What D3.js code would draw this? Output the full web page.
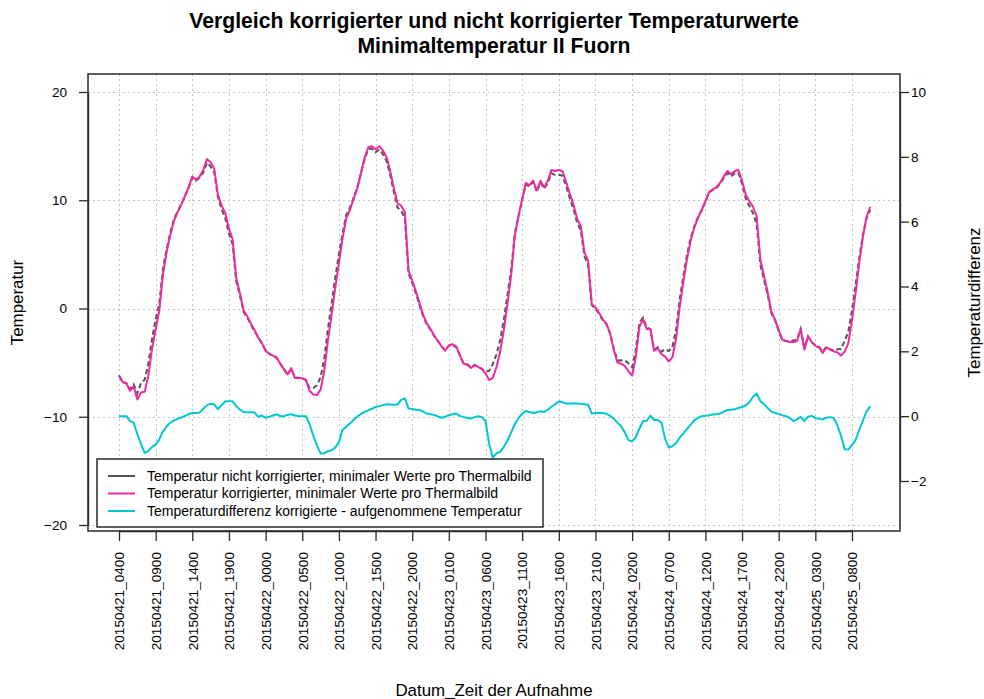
<!DOCTYPE html>
<html><head><meta charset="utf-8">
<script src="https://cdn.jsdelivr.net/npm/d3@7"></script>
<style>
body{margin:0;background:#fff}
svg{display:block}
text{font-family:"Liberation Sans",Arial,sans-serif;fill:#000}
</style>
</head><body>
<svg id="chart" width="984" height="699"></svg>
<script>
// ---------------- data ----------------
const titleLines = ["Vergleich korrigierter und nicht korrigierter Temperaturwerte", "Minimaltemperatur II Fuorn"];
const xTitle = "Datum_Zeit der Aufnahme";
const yLeftTitle = "Temperatur";
const yRightTitle = "Temperaturdifferenz";
const seriesNames = [
  "Temperatur nicht korrigierter, minimaler Werte pro Thermalbild",
  "Temperatur korrigierter, minimaler Werte pro Thermalbild",
  "Temperaturdifferenz korrigierte - aufgenommene Temperatur"
];
const startLabel = "20150421_0400";
const stepMinutes = 30;
const xTickLabels = ["20150421_0400","20150421_0900","20150421_1400","20150421_1900","20150422_0000",
  "20150422_0500","20150422_1000","20150422_1500","20150422_2000","20150423_0100","20150423_0600",
  "20150423_1100","20150423_1600","20150423_2100","20150424_0200","20150424_0700","20150424_1200",
  "20150424_1700","20150424_2200","20150425_0300","20150425_0800"];
const leftTicks = [-20, -10, 0, 10, 20];
const rightTicks = [-2, 0, 2, 4, 6, 8, 10];

const tempUncorrected = [
-6.2,-6.8,-6.9,-7.45,-7.0,-7.85,-6.9,-6.57,-5.12,-2.85,
-1.02,0.51,3.67,5.52,7.0,8.24,8.98,9.64,10.39,11.14,
12.1,11.8,12.09,12.57,13.46,13.12,12.54,10.28,9.16,8.34,
6.94,5.94,2.49,1.2,-0.33,-0.82,-1.52,-2.11,-2.68,-3.22,
-3.85,-4.18,-4.37,-4.56,-5.1,-5.6,-6.14,-5.56,-6.42,-6.4,
-6.45,-6.6,-7.35,-7.35,-7.1,-6.35,-4.65,-1.92,0.45,2.87,
5.0,6.91,8.63,9.33,10.22,11.11,12.44,13.77,14.72,14.77,
14.42,14.69,14.26,13.63,12.34,10.75,9.34,9.0,8.35,3.26,
2.38,1.4,0.31,-0.74,-1.48,-1.96,-2.54,-2.99,-3.45,-3.88,
-3.43,-3.36,-3.58,-4.31,-5.07,-5.15,-5.43,-5.22,-5.4,-5.57,
-5.85,-5.75,-5.12,-4.25,-2.9,-1.05,1.25,3.6,6.95,8.56,
10.02,11.44,11.27,11.7,10.78,11.65,11.07,11.6,12.51,12.33,
12.35,12.27,11.31,10.21,9.21,7.91,7.22,4.83,4.05,0.32,
0.0,-0.5,-1.1,-1.47,-2.31,-3.72,-4.8,-4.79,-4.8,-5.06,
-5.42,-3.85,-1.32,-0.85,-1.76,-1.92,-3.78,-3.58,-4.0,-3.76,
-3.93,-3.57,-1.97,0.86,3.03,4.99,6.56,7.62,8.45,9.1,
9.89,10.72,10.95,11.14,11.52,12.06,12.51,12.2,12.49,12.55,
11.52,10.17,9.47,8.8,7.8,4.04,2.63,1.25,-0.44,-1.1,
-2.07,-2.93,-3.0,-3.05,-2.95,-2.9,-1.88,-3.65,-2.58,-3.11,
-3.39,-3.52,-4.0,-3.55,-3.77,-3.89,-3.77,-3.75,-2.98,-2.17,
-0.21,2.23,4.72,6.83,8.35,9.09];

const tempCorrected = [
-6.2,-6.8,-6.9,-7.6,-7.2,-8.4,-7.75,-7.7,-6.2,-3.8,
-1.9,-0.2,3.2,5.2,6.8,8.1,8.9,9.6,10.4,11.2,
12.2,11.9,12.2,12.8,13.8,13.5,12.9,10.5,9.5,8.8,
7.4,6.4,2.8,1.4,-0.2,-0.7,-1.4,-2.0,-2.7,-3.2,
-3.9,-4.2,-4.35,-4.5,-5.1,-5.6,-6.1,-5.5,-6.4,-6.4,
-6.45,-6.6,-7.6,-7.95,-8.0,-7.5,-5.8,-3.0,-0.6,1.9,
4.2,6.5,8.3,9.1,10.1,11.1,12.5,13.9,14.9,15.0,
14.7,15.0,14.6,14.0,12.7,11.1,9.7,9.5,8.9,3.5,
2.6,1.6,0.5,-0.6,-1.4,-1.9,-2.5,-3.0,-3.5,-3.9,
-3.4,-3.3,-3.5,-4.3,-5.1,-5.2,-5.5,-5.25,-5.4,-5.6,
-6.0,-6.6,-6.4,-5.4,-4.0,-2.0,0.5,3.1,6.7,8.5,
10.1,11.6,11.4,11.8,10.9,11.8,11.2,11.8,12.8,12.7,
12.8,12.7,11.7,10.6,9.6,8.3,7.6,5.2,4.4,0.4,
0.1,-0.4,-1.0,-1.4,-2.3,-3.8,-5.0,-5.1,-5.3,-5.8,
-6.2,-4.5,-1.7,-1.0,-1.9,-1.9,-3.9,-3.7,-4.2,-4.45,
-4.9,-4.5,-2.8,0.2,2.5,4.6,6.3,7.5,8.4,9.1,
9.9,10.75,11.0,11.2,11.6,12.2,12.7,12.4,12.7,12.8,
11.8,10.5,9.9,9.4,8.5,4.5,3.0,1.5,-0.3,-1.0,
-2.0,-2.9,-3.0,-3.1,-3.1,-3.0,-1.9,-3.8,-2.6,-3.1,
-3.45,-3.6,-4.1,-3.6,-3.8,-3.95,-4.05,-4.35,-4.0,-3.2,
-1.1,1.5,4.3,6.7,8.5,9.4];

const tempDifference = [
0.0,0.0,0.0,-0.15,-0.2,-0.55,-0.85,-1.13,-1.08,-0.95,
-0.88,-0.71,-0.47,-0.32,-0.2,-0.14,-0.08,-0.04,0.01,0.06,
0.1,0.1,0.11,0.23,0.34,0.38,0.36,0.22,0.34,0.46,
0.46,0.46,0.31,0.2,0.13,0.12,0.12,0.11,-0.02,0.02,
-0.05,-0.02,0.02,0.06,0.0,0.0,0.04,0.06,0.02,0.0,
0.0,0.0,-0.25,-0.6,-0.9,-1.15,-1.15,-1.08,-1.05,-0.97,
-0.8,-0.41,-0.33,-0.23,-0.12,-0.01,0.06,0.13,0.18,0.23,
0.28,0.31,0.34,0.37,0.36,0.35,0.36,0.5,0.55,0.24,
0.22,0.2,0.19,0.14,0.08,0.06,0.04,-0.01,-0.05,-0.02,
0.03,0.06,0.08,0.01,-0.03,-0.05,-0.07,-0.03,0.0,-0.03,
-0.15,-0.85,-1.28,-1.15,-1.1,-0.95,-0.75,-0.5,-0.25,-0.06,
0.08,0.16,0.13,0.1,0.12,0.15,0.13,0.2,0.29,0.37,
0.45,0.43,0.39,0.39,0.39,0.39,0.38,0.37,0.35,0.08,
0.1,0.1,0.1,0.07,0.01,-0.08,-0.2,-0.31,-0.5,-0.74,
-0.78,-0.65,-0.38,-0.15,-0.14,0.02,-0.12,-0.12,-0.2,-0.69,
-0.97,-0.93,-0.83,-0.66,-0.53,-0.39,-0.26,-0.12,-0.05,0.0,
0.01,0.03,0.05,0.06,0.08,0.14,0.19,0.2,0.21,0.25,
0.28,0.33,0.43,0.6,0.7,0.46,0.37,0.25,0.14,0.1,
0.07,0.03,0.0,-0.05,-0.15,-0.1,-0.02,-0.15,-0.02,0.01,
-0.06,-0.08,-0.1,-0.05,-0.03,-0.06,-0.28,-0.6,-1.02,-1.03,
-0.89,-0.73,-0.42,-0.13,0.15,0.31];

const seriesColors = ["#555555", "#ee2aa2", "#00c8d0"];

// ---------------- layout ----------------
const plot = {left: 88, right: 900, top: 74, bottom: 531};
const svg = d3.select("#chart");
const parse = d3.timeParse("%Y%m%d_%H%M");
const start = parse(startLabel);
const times = tempCorrected.map((_, i) => d3.timeMinute.offset(start, stepMinutes * i));
const tickDates = xTickLabels.map(parse);

const x = d3.scaleTime().domain([tickDates[0], tickDates[tickDates.length - 1]]).range([119, 852]);
const yL = d3.scaleLinear().domain([-20, 20]).range([525, 92]);
const yR = d3.scaleLinear().domain([-2, 10]).range([481, 92]);

// grid
const grid = svg.append("g").attr("stroke", "#c4c4c4").attr("stroke-width", 1).attr("stroke-dasharray", "2,3");
grid.selectAll("line.v").data(tickDates).join("line")
  .attr("x1", d => Math.round(x(d)) + 0.5).attr("x2", d => Math.round(x(d)) + 0.5)
  .attr("y1", plot.top).attr("y2", plot.bottom);
grid.selectAll("line.h").data(leftTicks).join("line")
  .attr("x1", plot.left).attr("x2", plot.right)
  .attr("y1", d => Math.round(yL(d)) + 0.5).attr("y2", d => Math.round(yL(d)) + 0.5);

// lines
const lineL = (arr) => d3.line().x((d, i) => x(times[i])).y(d => yL(d))(arr);
const lineR = (arr) => d3.line().x((d, i) => x(times[i])).y(d => yR(d))(arr);

svg.append("path").attr("d", lineL(tempUncorrected)).attr("fill", "none")
  .attr("stroke", seriesColors[0]).attr("stroke-width", 2).attr("stroke-dasharray", "5,3");
svg.append("path").attr("d", lineL(tempCorrected)).attr("fill", "none")
  .attr("stroke", seriesColors[1]).attr("stroke-width", 2).attr("stroke-linejoin", "round");
svg.append("path").attr("d", lineR(tempDifference)).attr("fill", "none")
  .attr("stroke", seriesColors[2]).attr("stroke-width", 2).attr("stroke-linejoin", "round");

// frame
svg.append("rect").attr("x", plot.left).attr("y", plot.top)
  .attr("width", plot.right - plot.left).attr("height", plot.bottom - plot.top)
  .attr("fill", "none").attr("stroke", "#2a2a2a").attr("stroke-width", 1.5);

// axes
function styleAxis(g) {
  g.selectAll("path").attr("stroke", "#2a2a2a").attr("stroke-width", 1.3);
  g.selectAll("line").attr("stroke", "#2a2a2a").attr("stroke-width", 1.3);
  g.selectAll("text").style("font-family", '"Liberation Sans",Arial,sans-serif').attr("fill", "#000");
}
const axL = svg.append("g").attr("transform", `translate(${plot.left},0)`)
  .call(d3.axisLeft(yL).tickValues(leftTicks).tickSize(9).tickSizeOuter(0).tickPadding(12).tickFormat(d3.format("d")));
styleAxis(axL);
axL.selectAll("text").style("font-size", "13.6px");

const axR = svg.append("g").attr("transform", `translate(${plot.right},0)`)
  .call(d3.axisRight(yR).tickValues(rightTicks).tickSize(9).tickSizeOuter(0).tickPadding(2).tickFormat(d3.format("d")));
styleAxis(axR);
axR.selectAll("text").style("font-size", "13.6px");

const axB = svg.append("g").attr("transform", `translate(0,${plot.bottom})`)
  .call(d3.axisBottom(x).tickValues(tickDates).tickSize(10).tickSizeOuter(0).tickFormat((d, i) => xTickLabels[i]));
styleAxis(axB);
axB.selectAll("text").style("font-size", "13.6px")
  .attr("y", 0).attr("x", -21).attr("dy", "0.35em")
  .attr("transform", "rotate(-90)").style("text-anchor", "end");

// titles
svg.append("text").attr("x", 494).attr("y", 28).attr("text-anchor", "middle")
  .style("font-size", "21.2px").style("font-weight", "bold").text(titleLines[0]);
svg.append("text").attr("x", 494).attr("y", 53).attr("text-anchor", "middle")
  .style("font-size", "21.2px").style("font-weight", "bold").text(titleLines[1]);
svg.append("text").attr("x", 494).attr("y", 696).attr("text-anchor", "middle")
  .style("font-size", "16.9px").text(xTitle);
svg.append("text").attr("transform", `translate(23,${(plot.top + plot.bottom) / 2}) rotate(-90)`)
  .attr("text-anchor", "middle").style("font-size", "16.9px").text(yLeftTitle);
svg.append("text").attr("transform", `translate(980,${(plot.top + plot.bottom) / 2}) rotate(-90)`)
  .attr("text-anchor", "middle").style("font-size", "16.9px").text(yRightTitle);

// legend
const leg = svg.append("g");
leg.append("rect").attr("x", 97).attr("y", 459).attr("width", 446).attr("height", 68)
  .attr("fill", "#fff").attr("stroke", "#2a2a2a").attr("stroke-width", 1.5);
const rowsY = [476, 493.5, 511];
seriesNames.forEach((name, i) => {
  leg.append("line").attr("x1", 108).attr("x2", 135).attr("y1", rowsY[i]).attr("y2", rowsY[i])
    .attr("stroke", seriesColors[i]).attr("stroke-width", 2);
  leg.append("text").attr("x", 147).attr("y", rowsY[i]).attr("dy", "0.35em")
    .style("font-size", "14px").text(name);
});
</script>
</body></html>
